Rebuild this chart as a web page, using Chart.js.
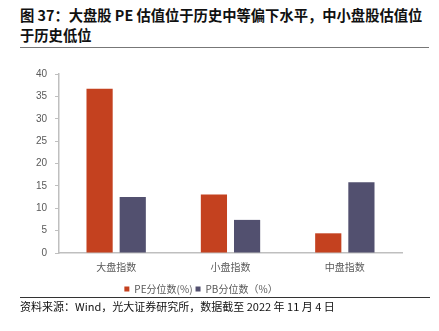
<!DOCTYPE html>
<html lang="zh">
  <head>
    <meta charset="UTF-8" />
    <title>Chart</title>
    <script src="https://cdn.jsdelivr.net/npm/chart.js"></script>
    <style>
      body {
        margin: 0;
        width: 439px;
        height: 331px;
        background: #fff;
        font-family: "Noto Sans CJK SC", sans-serif;
        position: relative;
        overflow: hidden;
      }
      .title {
        position: absolute;
        left: 20px;
        top: 5px;
        width: 420px;
        font-size: 14.3px;
        font-weight: bold;
        line-height: 20px;
        color: #111;
        white-space: nowrap;
      }
      .rule-top {
        position: absolute;
        left: 20px;
        top: 47px;
        width: 409px;
        border-top: 1.5px solid #777;
      }
      .chart-box {
        position: absolute;
        left: 0;
        top: 60px;
        width: 439px;
        height: 244px;
      }
      .rule-bottom {
        position: absolute;
        left: 20px;
        top: 297px;
        width: 410px;
        border-top: 1px solid #333;
      }
      .source {
        position: absolute;
        left: 20px;
        top: 298px;
        font-size: 11px;
        line-height: 16px;
        color: #111;
      }
    </style>
  </head>
  <body>
    <div class="title">图 37：大盘股 PE 估值位于历史中等偏下水平，中小盘股估值位<br />于历史低位</div>
    <div class="rule-top"></div>
    <div class="chart-box">
      <canvas id="bigChart"></canvas>
    </div>
    <div class="rule-bottom"></div>
    <div class="source">资料来源：Wind，光大证券研究所，数据截至 2022 年 11 月 4 日</div>

    <script>
      const categories = ["大盘指数", "小盘指数", "中盘指数"];
      const peValues = [36.7, 13.1, 4.4];
      const pbValues = [12.5, 7.4, 15.8];
      const seriesNames = ["PE分位数(%)", "PB分位数（%）"];
      const yTicks = [0, 5, 10, 15, 20, 25, 30, 35, 40];

      const grayText = "#595959";
      const axisGray = "#bfbfbf";

      const ctx = document.getElementById("bigChart").getContext("2d");
      new Chart(ctx, {
        type: "bar",
        data: {
          labels: categories,
          datasets: [
            {
              label: seriesNames[0],
              data: peValues,
              backgroundColor: "#c4411f",
              categoryPercentage: 0.58,
              barPercentage: 0.79,
            },
            {
              label: seriesNames[1],
              data: pbValues,
              backgroundColor: "#52506f",
              categoryPercentage: 0.58,
              barPercentage: 0.79,
            },
          ],
        },
        options: {
          responsive: true,
          maintainAspectRatio: false,
          animation: false,
          layout: {
            padding: { left: 0, right: 37, top: 6, bottom: 0 },
          },
          plugins: {
            legend: {
              position: "bottom",
              labels: {
                boxWidth: 5,
                boxHeight: 5,
                padding: 3,
                color: grayText,
                font: { family: "Noto Sans CJK SC", size: 10 },
              },
            },
            tooltip: { enabled: false },
          },
          scales: {
            x: {
              grid: { display: false, drawTicks: false },
              border: { color: axisGray, width: 1.5 },
              ticks: {
                color: grayText,
                padding: 8,
                font: { family: "Noto Sans CJK SC", size: 10 },
              },
            },
            y: {
              min: 0,
              max: 40,
              afterFit: (scale) => {
                scale.width = 59;
              },
              afterBuildTicks: (scale) => {
                scale.ticks = yTicks.map((v) => ({ value: v }));
              },
              grid: {
                drawOnChartArea: false,
                drawTicks: true,
                tickLength: 4,
                color: axisGray,
              },
              border: { color: axisGray, width: 1.5 },
              ticks: {
                color: grayText,
                padding: 8,
                font: { family: "Liberation Sans", size: 10 },
              },
            },
          },
        },
      });
    </script>
  </body>
</html>
